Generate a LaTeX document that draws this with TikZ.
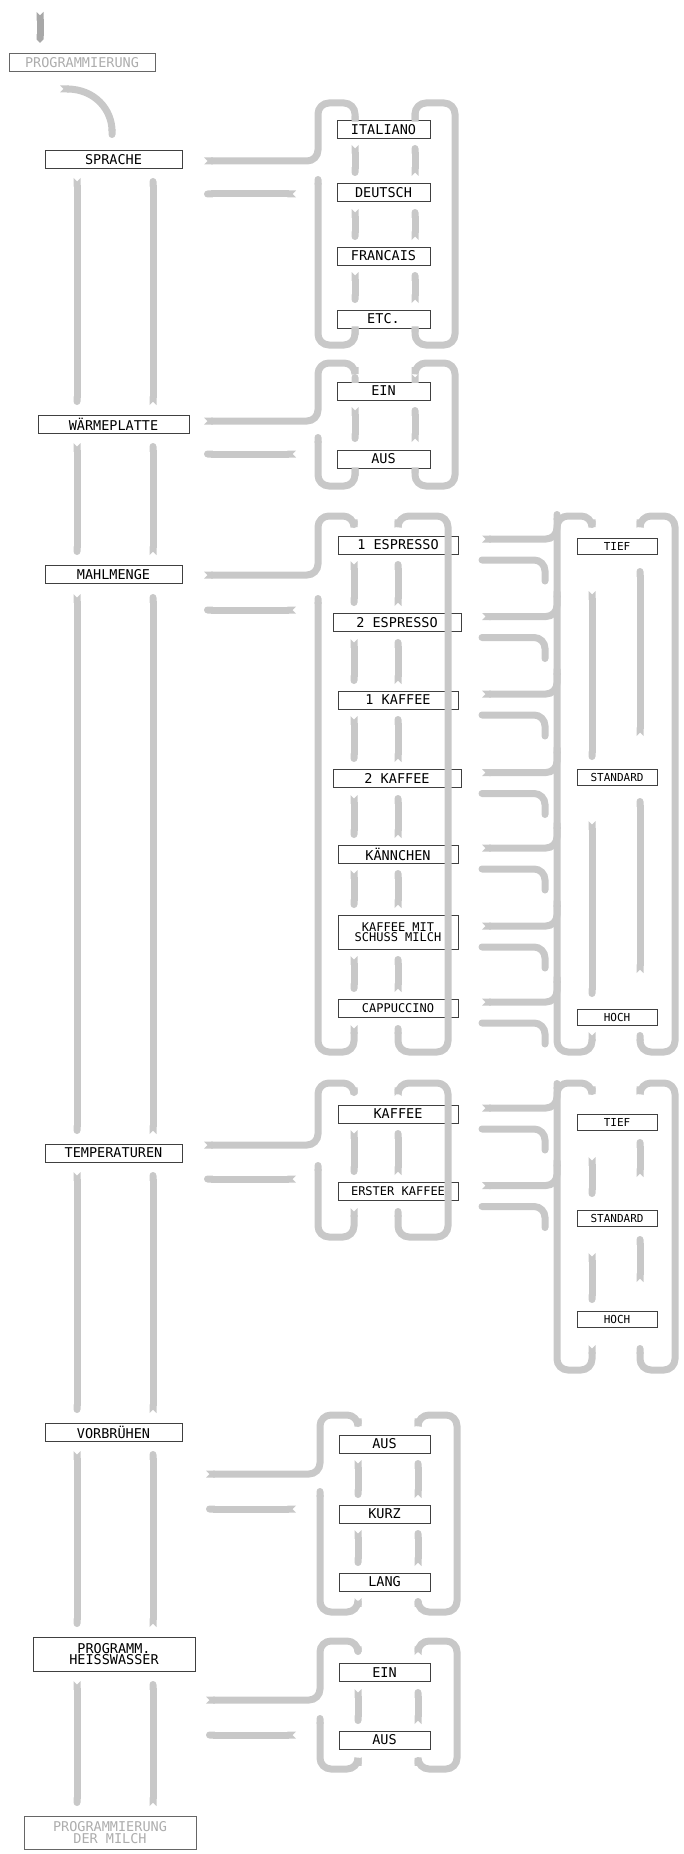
\documentclass[tikz,border=0pt]{standalone}
\usepackage{fontspec}
\setmonofont{DejaVu Sans Mono}
\usetikzlibrary{arrows.meta}
\definecolor{ribc}{HTML}{C8C8C8}
\definecolor{ribd}{HTML}{A8A8A8}
\tikzset{
 rib/.style={draw=ribc, line width=7pt, rounded corners=11pt, {Triangle Cap[reversed]}-{Round Cap}},
 ribr/.style={draw=ribc, line width=7pt, rounded corners=11pt, line cap=round},
 bx/.style={draw=black!75, line width=0.8pt, inner sep=0pt, minimum height=18pt, fill=white,
   font=\ttfamily\fontsize{13.5}{13.5}\selectfont, align=center},
 sbx/.style={bx, minimum width=80pt, minimum height=16pt, font=\ttfamily\fontsize{11}{11}\selectfont},
 gbx/.style={bx, text=black!32, draw=black!60},
 nar/.style={font=\ttfamily\fontsize{12}{12}\selectfont}
}
\begin{document}
\begin{tikzpicture}[x=1pt,y=-1pt]
\useasboundingbox (0,0) rectangle (684,1854);
% ---- main column boxes
\node[gbx, minimum width=146pt] (prog) at (82,62.5) {PROGRAMMIERUNG};
\node[bx, minimum width=137pt] (spr) at (113.5,159.5) {SPRACHE};
\node[bx, minimum width=151pt] (warm) at (113.5,424) {WÄRMEPLATTE};
\node[bx, minimum width=137pt] (mahl) at (113.5,574.5) {MAHLMENGE};
\node[bx, minimum width=137pt] (temp) at (113.5,1153) {TEMPERATUREN};
\node[bx, minimum width=137pt] (vorb) at (113.5,1432) {VORBRÜHEN};
\node[bx, minimum width=162pt, minimum height=34pt] (heiss) at (114,1654) {PROGRAMM.\\[-2pt]HEISSWASSER};
\node[gbx, minimum width=172pt, minimum height=33pt] (milch) at (110,1832.5) {PROGRAMMIERUNG\\[-2pt]DER MILCH};
% ---- top arrow and curve
\draw[draw=ribd, line width=7pt, {Triangle Cap[reversed]}-{Triangle Cap}] (40,12) -- (40,43);
\draw[rib] (60,89) .. controls (95,89) and (112,110) .. (112,138);
% ---- main verticals
\foreach \a/\b in {178/405, 443/555, 594/1134, 1172/1413, 1451/1627, 1681/1806}{
  \draw[rib] (77,\a) -- (77,\b);
  \draw[rib] (153,\b) -- (153,\a);
}
% ---- submenu SPRACHE
\node[bx, minimum width=93pt] (ital) at (383.5,129.5) {ITALIANO};
\node[bx, minimum width=93pt] (deut) at (383.5,192.5) {DEUTSCH};
\node[bx, minimum width=93pt] (fran) at (383.5,256) {FRANCAIS};
\node[bx, minimum width=93pt] (etc) at (383.5,319) {ETC.};
\draw[rib] (204,161) -- (318,161) -- (318,103) -- (355,103) -- (355,113);
\draw[rib] (296,194) -- (204,194);
\draw[rib] (355,335) -- (355,345) -- (318,345) -- (318,176);
\draw[rib] (415,113) -- (415,103) -- (455,103) -- (455,345) -- (415,345) -- (415,335);
\foreach \a/\b in {145/176, 209/240, 272/303}{
  \draw[rib] (355,\a) -- (355,\b); \draw[rib] (415,\b) -- (415,\a);}
% ---- submenu WÄRMEPLATTE
\node[bx, minimum width=93pt] (ein1) at (383.5,391) {EIN};
\node[bx, minimum width=93pt] (aus1) at (383.5,459) {AUS};
\draw[rib] (204,421) -- (318,421) -- (318,363) -- (355,363) -- (355,374);
\draw[rib] (296,454) -- (204,454);
\draw[rib] (355,476) -- (355,486) -- (318,486) -- (318,434);
\draw[rib] (415,374) -- (415,363) -- (455,363) -- (455,486) -- (415,486) -- (415,476);
\draw[rib] (355,407) -- (355,442); \draw[rib] (415,442) -- (415,407);
% ---- submenu MAHLMENGE
\node[bx, minimum width=120pt] (e1) at (398,545) {1 ESPRESSO};
\node[bx, minimum width=128pt] (e2) at (397,622.5) {2 ESPRESSO};
\node[bx, minimum width=120pt] (k1) at (398,700) {1 KAFFEE};
\node[bx, minimum width=128pt] (k2) at (397,778.5) {2 KAFFEE};
\node[bx, minimum width=120pt] (kan) at (398,854) {KÄNNCHEN};
\node[bx, nar, minimum width=120pt, minimum height=34pt] (kms) at (398,932) {KAFFEE MIT\\[-2pt]SCHUSS MILCH};
\node[bx, nar, minimum width=120pt] (cap) at (398,1008) {CAPPUCCINO};
\draw[rib] (204,575) -- (318,575) -- (318,516) -- (354,516) -- (354,528);
\draw[rib] (296,610) -- (204,610);
\draw[rib] (354,1025) -- (354,1052) -- (318,1052) -- (318,595);
\draw[rib] (398,528) -- (398,516) -- (448,516) -- (448,1052) -- (398,1052) -- (398,1025);
\foreach \a/\b in {561/606, 639/684, 716/762, 795/838, 870/908, 956/992}{
  \draw[rib] (354,\a) -- (354,\b); \draw[rib] (398,\b) -- (398,\a);}
% right set for MAHLMENGE
\node[sbx] (tief1) at (617,546) {TIEF};
\node[sbx] (std1) at (617,777.5) {STANDARD};
\node[sbx] (hoch1) at (617,1017) {HOCH};
\draw[rib] (592,1032) -- (592,1052) -- (557,1052) -- (557,516) -- (592,516) -- (592,528);
\draw[rib] (640,528) -- (640,516) -- (675,516) -- (675,1052) -- (640,1052) -- (640,1032);
\draw[rib] (592,591) -- (592,760); \draw[rib] (592,821) -- (592,997);
\draw[rib] (640,736) -- (640,568); \draw[rib] (640,973) -- (640,798);
\foreach \c in {545,622.5,700,778.5,854,932,1008}{
  \draw[rib] (482,\c-6) -- (557,\c-6) -- (557,\c-34);
  \draw[ribr] (482,\c+15) -- (545,\c+15) -- (545,\c+36);
}
% ---- submenu TEMPERATUREN
\node[bx, minimum width=120pt] (kaf) at (398,1114) {KAFFEE};
\node[bx, nar, minimum width=120pt] (erst) at (398,1191.5) {ERSTER KAFFEE};
\draw[rib] (204,1145) -- (318,1145) -- (318,1083) -- (354,1083) -- (354,1096);
\draw[rib] (296,1179) -- (204,1179);
\draw[rib] (354,1208) -- (354,1237) -- (318,1237) -- (318,1162);
\draw[rib] (398,1096) -- (398,1083) -- (448,1083) -- (448,1237) -- (398,1237) -- (398,1208);
\draw[rib] (354,1130) -- (354,1175); \draw[rib] (398,1175) -- (398,1130);
\node[sbx] (tief2) at (617,1122.5) {TIEF};
\node[sbx] (std2) at (617,1218) {STANDARD};
\node[sbx] (hoch2) at (617,1319) {HOCH};
\draw[rib] (592,1345) -- (592,1370) -- (557,1370) -- (557,1083) -- (592,1083) -- (592,1095);
\draw[rib] (640,1095) -- (640,1083) -- (675,1083) -- (675,1370) -- (640,1370) -- (640,1345);
\draw[rib] (592,1157) -- (592,1197); \draw[rib] (592,1253) -- (592,1303);
\draw[rib] (640,1177) -- (640,1139); \draw[rib] (640,1282) -- (640,1236);
\foreach \c in {1114,1191.5}{
  \draw[rib] (482,\c-6) -- (557,\c-6) -- (557,\c-34);
  \draw[ribr] (482,\c+15) -- (545,\c+15) -- (545,\c+36);
}
% ---- submenu VORBRÜHEN
\node[bx, minimum width=91pt] (aus2) at (384.5,1444) {AUS};
\node[bx, minimum width=91pt] (kurz) at (384.5,1514) {KURZ};
\node[bx, minimum width=91pt] (lang) at (384.5,1582) {LANG};
\draw[rib] (206,1474) -- (320,1474) -- (320,1415) -- (358,1415) -- (358,1427);
\draw[rib] (296,1509) -- (206,1509);
\draw[rib] (358,1598) -- (358,1612) -- (320,1612) -- (320,1488);
\draw[rib] (418,1427) -- (418,1415) -- (457,1415) -- (457,1612) -- (418,1612) -- (418,1598);
\foreach \a/\b in {1460/1498, 1530/1566}{
  \draw[rib] (358,\a) -- (358,\b); \draw[rib] (418,\b) -- (418,\a);}
% ---- submenu HEISSWASSER
\node[bx, minimum width=91pt] (ein2) at (384.5,1672.5) {EIN};
\node[bx, minimum width=91pt] (aus3) at (384.5,1740) {AUS};
\draw[rib] (206,1700) -- (320,1700) -- (320,1641) -- (358,1641) -- (358,1655);
\draw[rib] (296,1735) -- (206,1735);
\draw[rib] (358,1757) -- (358,1769) -- (320,1769) -- (320,1715);
\draw[rib] (418,1655) -- (418,1641) -- (457,1641) -- (457,1769) -- (418,1769) -- (418,1757);
\draw[rib] (358,1689) -- (358,1724); \draw[rib] (418,1724) -- (418,1689);
\end{tikzpicture}
\end{document}
